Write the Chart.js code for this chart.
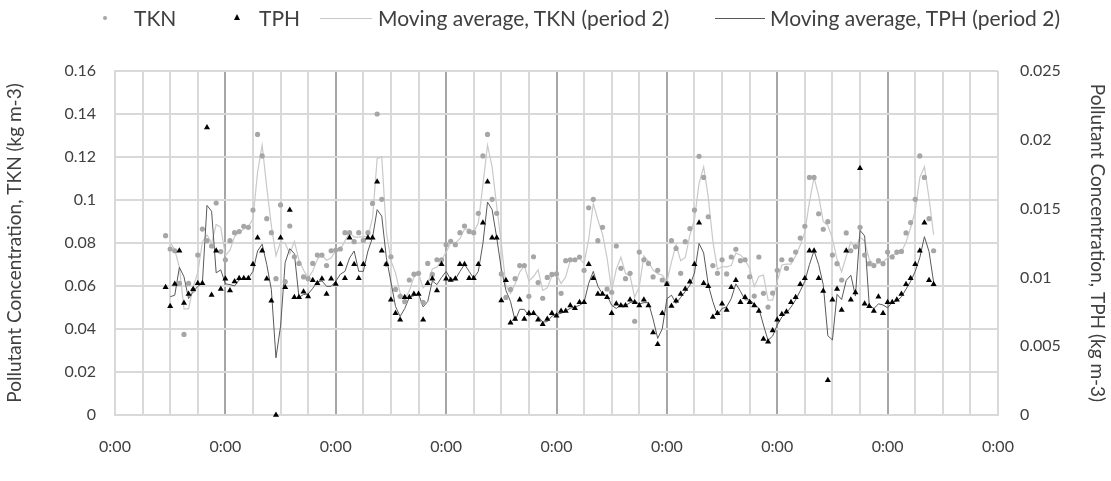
<!DOCTYPE html>
<html>
<head>
<meta charset="utf-8">
<script src="https://cdn.jsdelivr.net/npm/chart.js@4"></script>
<style>
  body { margin: 0; background: #fff; }
  #wrap { position: relative; width: 1111px; height: 481px; font-family: Lato, sans-serif; }
  #legend { position: absolute; left: 0; top: 0; width: 1111px; height: 36px; font-size: 21px; color: #404040; }
  #legend .txt { position: absolute; top: 5px; line-height: 26px; white-space: nowrap; }
  #legend .mk { position: absolute; }
</style>
</head>
<body>
<div id="wrap">
  <canvas id="pollutantChart" width="1111" height="481"></canvas>
  <div id="legend">
    <div class="mk" style="left:103px;top:16px;width:4px;height:4px;border-radius:50%;background:#a6a6a6"></div>
    <div class="txt" style="left:134px">TKN</div>
    <div class="mk" style="left:234px;top:14px;width:0;height:0;border-left:3px solid transparent;border-right:3px solid transparent;border-bottom:6px solid #000"></div>
    <div class="txt" style="left:259px">TPH</div>
    <div class="mk" style="left:320px;top:18px;width:52px;height:1px;background:#c9c9c9"></div>
    <div class="txt" style="left:378px">Moving average, TKN (period 2)</div>
    <div class="mk" style="left:715px;top:18px;width:50px;height:1px;background:#595959"></div>
    <div class="txt" style="left:770px">Moving average, TPH (period 2)</div>
  </div>
</div>
<script>
// hourly samples; first one is 11 h after the axis origin
const startHour = 11;
const xTickLabel = "0:00";

const tkn = [
  0.0834, 0.0772, 0.0764, 0.0612, 0.0375, 0.0612, 0.0581, 0.0744, 0.0865, 0.0811, 0.0786, 0.0986,
  0.0760, 0.0722, 0.0811, 0.0848, 0.0853, 0.0878, 0.0873, 0.0953, 0.1305, 0.1205, 0.0913, 0.0848,
  0.0634, 0.0977, 0.0620, 0.0879, 0.0736, 0.0705, 0.0642, 0.0634, 0.0705, 0.0744, 0.0744, 0.0695,
  0.0764, 0.0767, 0.0772, 0.0848, 0.0848, 0.0806, 0.0848, 0.0812, 0.0848, 0.0984, 0.1400, 0.1003,
  0.0701, 0.0736, 0.0584, 0.0552, 0.0527, 0.0628, 0.0655, 0.0659, 0.0524, 0.0705, 0.0654, 0.0722,
  0.0722, 0.0792, 0.0808, 0.0792, 0.0848, 0.0879, 0.0853, 0.0848, 0.0938, 0.1205, 0.1305, 0.1003,
  0.0938, 0.0656, 0.0547, 0.0584, 0.0634, 0.0695, 0.0695, 0.0552, 0.0736, 0.0616, 0.0543, 0.0640,
  0.0654, 0.0656, 0.0566, 0.0718, 0.0722, 0.0722, 0.0735, 0.0673, 0.0964, 0.1003, 0.0811, 0.0873,
  0.0586, 0.0571, 0.0786, 0.0682, 0.0634, 0.0659, 0.0436, 0.0758, 0.0722, 0.0705, 0.0642, 0.0673,
  0.0628, 0.0612, 0.0811, 0.0775, 0.0659, 0.0806, 0.0867, 0.0953, 0.1203, 0.1105, 0.0922, 0.0695,
  0.0659, 0.0722, 0.0656, 0.0735, 0.0771, 0.0718, 0.0722, 0.0643, 0.0553, 0.0735, 0.0566, 0.0502,
  0.0567, 0.0673, 0.0722, 0.0682, 0.0722, 0.0758, 0.0823, 0.0878, 0.1105, 0.1105, 0.0936, 0.0864,
  0.0899, 0.0744, 0.0704, 0.0628, 0.0847, 0.0764, 0.0783, 0.0873, 0.0744, 0.0704, 0.0695, 0.0718,
  0.0704, 0.0758, 0.0735, 0.0758, 0.0761, 0.0847, 0.0895, 0.1003, 0.1205, 0.1105, 0.0913, 0.0764
];

const tph = [
  0.00928, 0.00790, 0.00952, 0.01194, 0.00814, 0.00879, 0.00913, 0.00957, 0.00957, 0.02090, 0.00872, 0.01194,
  0.00916, 0.00991, 0.00904, 0.00971, 0.00993, 0.00993, 0.00993, 0.01095, 0.01289, 0.01194, 0.00991, 0.00831,
  0, 0.01289, 0.00928, 0.01490, 0.00855, 0.00855, 0.00896, 0.00862, 0.00979, 0.00957, 0.00991, 0.00879,
  0.00991, 0.00952, 0.01095, 0.00993, 0.01289, 0.01095, 0.00993, 0.01095, 0.01289, 0.01289, 0.01696, 0.01194,
  0.01095, 0.00838, 0.00739, 0.00693, 0.00855, 0.00855, 0.00879, 0.00879, 0.00693, 0.00957, 0.00991, 0.00904,
  0.01095, 0.00991, 0.00981, 0.00991, 0.01095, 0.01095, 0.00993, 0.00993, 0.01095, 0.01398, 0.01696, 0.01289,
  0.01289, 0.00833, 0.00979, 0.00671, 0.00698, 0.00838, 0.00698, 0.00739, 0.00739, 0.00693, 0.00659, 0.00698,
  0.00739, 0.00722, 0.00756, 0.00756, 0.00795, 0.00775, 0.00819, 0.00819, 0.01095, 0.00993, 0.00879, 0.00879,
  0.00855, 0.00739, 0.00809, 0.00795, 0.00795, 0.00838, 0.00819, 0.00795, 0.00838, 0.00795, 0.00600, 0.00514,
  0.00739, 0.00950, 0.00792, 0.00831, 0.00879, 0.00916, 0.00969, 0.01095, 0.01398, 0.00957, 0.00935, 0.00712,
  0.00739, 0.00809, 0.00763, 0.00928, 0.00979, 0.00819, 0.00855, 0.00819, 0.00795, 0.00756, 0.00552, 0.00533,
  0.00615, 0.00693, 0.00732, 0.00751, 0.00819, 0.00855, 0.00950, 0.00993, 0.01194, 0.01194, 0.00993, 0.00901,
  0.00252, 0.00838, 0.00916, 0.00763, 0.01194, 0.00838, 0.00891, 0.01793, 0.00809, 0.00790, 0.00756, 0.00860,
  0.00739, 0.00819, 0.00819, 0.00838, 0.00879, 0.00950, 0.00993, 0.01095, 0.01194, 0.01398, 0.00979, 0.00950
];

function toPoints(values) {
  return values.map((v, i) => ({ x: startHour + i, y: v }));
}

// Excel-style 2 period moving average (starts at the second sample)
function movingAverage(values) {
  return values
    .map((v, i) => (i === 0 ? null : { x: startHour + i, y: (v + values[i - 1]) / 2 }))
    .filter((p) => p !== null);
}

function trimNum(v, digits) {
  return String(Number(v.toFixed(digits)));
}

Chart.defaults.font.family = "Lato, sans-serif";
Chart.defaults.font.size = 16;
Chart.defaults.color = "#404040";

const gridLight = "#d9d9d9";
const gridDay = "#a6a6a6";

new Chart(document.getElementById("pollutantChart"), {
  type: "scatter",
  data: {
    datasets: [
      {
        label: "TPH",
        data: toPoints(tph),
        yAxisID: "y2",
        pointStyle: "triangle",
        pointRadius: 3.5,
        backgroundColor: "#000",
        borderColor: "#000",
        borderWidth: 0,
        clip: 8,
      },
      {
        label: "TKN",
        data: toPoints(tkn),
        yAxisID: "y",
        pointStyle: "circle",
        pointRadius: 2.6,
        backgroundColor: "#a6a6a6",
        borderWidth: 0,
        clip: 8,
      },
      {
        label: "Moving average, TPH (period 2)",
        type: "line",
        data: movingAverage(tph),
        yAxisID: "y2",
        borderColor: "#595959",
        borderWidth: 1,
        pointRadius: 0,
        tension: 0,
      },
      {
        label: "Moving average, TKN (period 2)",
        type: "line",
        data: movingAverage(tkn),
        yAxisID: "y",
        borderColor: "#c9c9c9",
        borderWidth: 1.2,
        pointRadius: 0,
        tension: 0,
      },
    ],
  },
  options: {
    responsive: false,
    animation: false,
    layout: { padding: { top: 71, left: 0, right: 0, bottom: 0 } },
    plugins: {
      legend: { display: false },
      tooltip: { enabled: false },
    },
    scales: {
      x: {
        type: "linear",
        min: 0,
        max: 192,
        afterFit: (s) => { s.height = 66; },
        grid: {
          drawTicks: false,
          lineWidth: 2,
          color: (ctx) => {
            const v = ctx.tick ? ctx.tick.value : 0;
            return v % 24 === 0 && v > 0 && v < 192 ? gridDay : gridLight;
          },
        },
        border: { color: gridLight, width: 2 },
        ticks: {
          stepSize: 6,
          autoSkip: false,
          maxRotation: 0,
          padding: 22,
          callback: (v) => (v % 24 === 0 ? xTickLabel : ""),
        },
      },
      y: {
        position: "left",
        min: 0,
        max: 0.16,
        afterFit: (s) => { s.width = 115; },
        grid: { drawTicks: false, lineWidth: 2, color: gridLight },
        border: { color: gridLight, width: 2 },
        ticks: { stepSize: 0.02, padding: 19, callback: (v) => trimNum(v, 3) },
        title: {
          display: true,
          text: "Pollutant Concentration, TKN (kg m-3)",
          font: { size: 19 },
          padding: { top: 3, bottom: 0 },
        },
      },
      y2: {
        position: "right",
        min: 0,
        max: 0.025,
        afterFit: (s) => { s.width = 113; },
        grid: { drawOnChartArea: false, drawTicks: false },
        border: { display: false },
        ticks: { stepSize: 0.005, padding: 22, callback: (v) => trimNum(v, 4) },
        title: {
          display: true,
          text: "Pollutant Concentration, TPH (kg m-3)",
          font: { size: 19 },
          padding: { top: 2, bottom: 0 },
        },
      },
    },
  },
});
</script>
</body>
</html>
